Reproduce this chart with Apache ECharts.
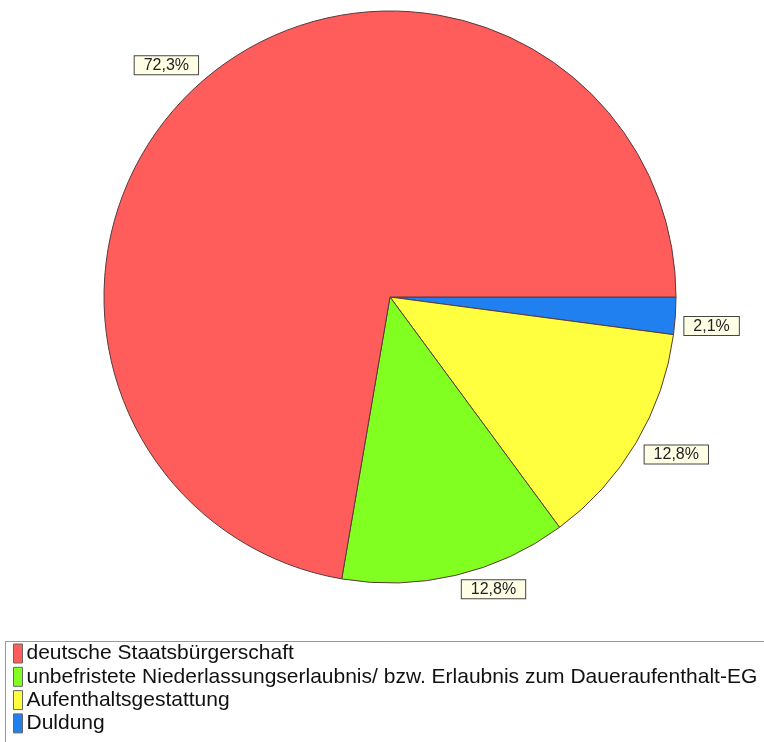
<!DOCTYPE html>
<html>
<head>
<meta charset="utf-8">
<script src="https://cdn.jsdelivr.net/npm/echarts@6/dist/echarts.min.js"></script>
<style>
  html, body { margin: 0; padding: 0; background: #fff; }
  #chart { width: 764px; height: 742px; }
</style>
</head>
<body>
<div id="chart"></div>
<script>
// Status categories, drawn clockwise from 3 o'clock
const categories = [
  'Duldung',
  'Aufenthaltsgestattung',
  'unbefristete Niederlassungserlaubnis/ bzw. Erlaubnis zum Daueraufenthalt-EG',
  'deutsche Staatsbürgerschaft'
];
const shares = [2.1, 12.8, 12.8, 72.3];
const colors = ['#2080F0', '#FFFF40', '#80FF20', '#FF5C5C'];
// Legend lists the categories top-down in this order
const legendOrder = [
  'deutsche Staatsbürgerschaft',
  'unbefristete Niederlassungserlaubnis/ bzw. Erlaubnis zum Daueraufenthalt-EG',
  'Aufenthaltsgestattung',
  'Duldung'
];

// Mid angle of each slice (clockwise from 3 o'clock), used to decide
// whether a value box hangs above or below its anchor point
const total = shares.reduce((a, b) => a + b, 0);
const midAngles = [];
shares.reduce((acc, v) => {
  midAngles.push((acc + v / 2) / total * 2 * Math.PI);
  return acc + v;
}, 0);

const chart = echarts.init(document.getElementById('chart'));
chart.setOption({
  animation: false,
  backgroundColor: '#fff',
  graphic: [{
    type: 'rect',
    shape: { x: 5.5, y: 641.5, width: 770, height: 110 },
    style: { fill: '#fff', stroke: '#999', lineWidth: 1 },
    z: -1
  }],
  legend: {
    orient: 'vertical',
    left: 13,
    top: 643,
    padding: 0,
    itemGap: 2.3,
    itemWidth: 9,
    itemHeight: 19,
    icon: 'rect',
    data: legendOrder,
    itemStyle: { borderColor: '#666', borderWidth: 1 },
    textStyle: {
      fontFamily: 'Liberation Sans, Arial, sans-serif',
      fontSize: 21,
      lineHeight: 19,
      color: '#111',
      padding: [0, 0, 0, -1]
    }
  },
  series: [{
    type: 'pie',
    center: [390, 297],
    radius: 286,
    startAngle: 0,
    clockwise: true,
    avoidLabelOverlap: false,
    itemStyle: { borderColor: '#5a3a3a', borderWidth: 1 },
    label: {
      show: true,
      position: 'outside',
      formatter: p => p.value.toFixed(1).replace('.', ',') + '%',
      fontFamily: 'Liberation Sans, Arial, sans-serif',
      fontSize: 16,
      color: '#222',
      backgroundColor: '#FFFFE6',
      borderColor: '#444',
      borderWidth: 1,
      padding: [1, 9, 1, 9]
    },
    labelLine: { show: false, length: 4, length2: 0 },
    // boxes above the centre sit on their anchor, boxes below hang from it
    labelLayout: params => {
      const below = Math.sin(midAngles[params.dataIndex]) > 0;
      return { dy: (below ? 1 : -1) * params.labelRect.height / 2 };
    },
    data: categories.map((name, i) => ({
      name,
      value: shares[i],
      itemStyle: { color: colors[i] }
    }))
  }]
});
</script>
</body>
</html>
